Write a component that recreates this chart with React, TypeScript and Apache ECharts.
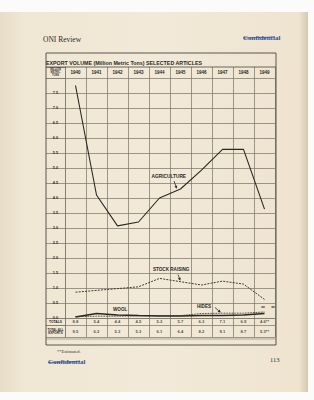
import React, { useEffect, useRef } from "react";
import * as echarts from "echarts";

const years = ["1940", "1941", "1942", "1943", "1944", "1945", "1946", "1947", "1948", "1949"];
const agriculture = [7.75, 4.1, 3.07, 3.2, 4.0, 4.3, 4.93, 5.62, 5.62, 3.63];
const stockRaising = [0.86, 0.92, 0.98, 1.04, 1.32, 1.21, 1.1, 1.23, 1.13, 0.62];
const wool = [0.03, 0.15, 0.1, 0.08, 0.07, 0.07, 0.08, 0.08, 0.1, 0.15];
const hides = [0.05, 0.06, 0.06, 0.07, 0.08, 0.08, 0.15, 0.16, 0.16, 0.2];
const totals = [8.8, 5.4, 4.4, 4.5, 5.3, 5.7, 6.3, 7.1, 6.9, 4.6];
const totalAllExports = [9.5, 6.2, 5.3, 5.3, 6.1, 6.4, 8.2, 9.1, 8.7, 5.3];
const estimated = [false, false, false, false, false, false, false, false, false, true];
const totalsRow = ["TOTALS"];
const allExportsRow = ["TOTAL ALL\nEXPORTS"];
const headerName = ["MILLION\nMETRIC\nTONS"];

const INK = "#2b2824";
const GRID = "#7f796d";
const SANS = "Liberation Sans";
const SERIF = "Liberation Serif";

function arrow(x1: number, y1: number, x2: number, y2: number) {
  const dx = x2 - x1, dy = y2 - y1;
  const len = Math.sqrt(dx * dx + dy * dy);
  const ux = dx / len, uy = dy / len;
  const px = -uy, py = ux;
  const hl = 3, hw = 1.5;
  const bx = x2 - ux * hl, by = y2 - uy * hl;
  return [
    { type: "line", shape: { x1, y1, x2: bx, y2: by }, style: { stroke: INK, lineWidth: 0.8 }, z: 20 },
    {
      type: "polygon",
      shape: { points: [[x2, y2], [bx + px * hw, by + py * hw], [bx - px * hw, by - py * hw]] },
      style: { fill: INK },
      z: 20,
    },
  ];
}

function txt(text: string, x: number, y: number, font: string, fill = INK, align = "left") {
  return {
    type: "text",
    x,
    y,
    z: 20,
    style: { text, font, fill, textAlign: align, textVerticalAlign: "middle" },
  };
}

export default function App() {
  const ref = useRef<HTMLDivElement>(null);
  useEffect(() => {
    if (!ref.current) return;
    const chart = echarts.init(ref.current, undefined, { renderer: "svg" });
    const lineStyleGrid = { color: GRID, width: 0.75 };
    const hiddenCatX = (gi: number, axisLine: boolean) => ({
      type: "category",
      gridIndex: gi,
      data: years,
      boundaryGap: true,
      axisLine: { show: axisLine, lineStyle: lineStyleGrid },
      axisTick: { show: false },
      axisLabel: { show: false },
      splitLine: { show: true, interval: 0, lineStyle: lineStyleGrid },
    });
    const rowY = (gi: number, data: string[], fontSize: number, lineHeight: number, color = INK) => ({
      type: "category",
      gridIndex: gi,
      data,
      axisLine: { show: true, lineStyle: lineStyleGrid },
      axisTick: { show: true, length: 19, lineStyle: lineStyleGrid },
      axisLabel: {
        fontSize,
        lineHeight,
        fontWeight: "bold",
        color,
        fontFamily: SANS,
        margin: 9.5,
        align: "center",
      },
      splitLine: { show: false },
    });
    const valueLabel = {
      show: true,
      position: "inside",
      fontSize: 4.2,
      fontWeight: "bold",
      color: INK,
      fontFamily: SANS,
      formatter: (p: any) => p.data[2].toFixed(1) + (estimated[p.dataIndex] ? "**" : ""),
    };
    const option: any = {
      animation: false,
      backgroundColor: "#fbfbf9",
      title: {
        text: "EXPORT VOLUME (Million Metric Tons) SELECTED ARTICLES",
        left: 46,
        top: 60,
        padding: 0,
        textStyle: { fontSize: 5.3, fontWeight: "bold", color: INK, fontFamily: SANS },
      },
      grid: [
        { left: 65, right: 39, top: 78, bottom: 82 },
        { left: 65, right: 39, top: 67, bottom: 322 },
        { left: 65, right: 39, top: 318, bottom: 75 },
        { left: 65, right: 39, top: 325, bottom: 63 },
      ],
      xAxis: [
        {
          type: "category",
          gridIndex: 0,
          data: years,
          position: "top",
          boundaryGap: true,
          axisLine: { show: true, lineStyle: lineStyleGrid },
          axisTick: { show: false },
          axisLabel: {
            fontSize: 4.5,
            fontWeight: "bold",
            color: INK,
            fontFamily: SANS,
            margin: 5.5,
            verticalAlign: "middle",
            interval: 0,
          },
          splitLine: { show: true, interval: 0, lineStyle: lineStyleGrid },
        },
        hiddenCatX(1, false),
        hiddenCatX(2, true),
        hiddenCatX(3, true),
      ],
      yAxis: [
        {
          type: "value",
          gridIndex: 0,
          min: 0,
          max: 8,
          interval: 0.5,
          axisLine: { show: true, lineStyle: lineStyleGrid },
          axisTick: { show: true, length: 19, lineStyle: lineStyleGrid },
          axisLabel: {
            fontSize: 3.8,
            fontWeight: "bold",
            color: INK,
            fontFamily: SANS,
            margin: 9.5,
            align: "center",
            formatter: (v: number) => (v >= 8 ? "" : v.toFixed(1)),
          },
          splitLine: { show: true, lineStyle: lineStyleGrid },
        },
        rowY(1, headerName, 2.6, 2.9, "#3a3630"),
        rowY(2, totalsRow, 3.3, 3.6),
        rowY(3, allExportsRow, 3.0, 3.4),
      ],
      series: [
        {
          name: "Agriculture",
          type: "line",
          data: agriculture,
          symbol: "none",
          lineStyle: { color: INK, width: 1.1 },
          z: 10,
        },
        {
          name: "Stock Raising",
          type: "line",
          data: stockRaising,
          symbol: "none",
          lineStyle: { color: INK, width: 0.9, type: [2, 1.2] },
          z: 10,
        },
        {
          name: "Wool",
          type: "line",
          data: wool,
          symbol: "none",
          lineStyle: { color: INK, width: 1.5 },
          z: 10,
        },
        {
          name: "Hides",
          type: "line",
          data: hides,
          symbol: "none",
          lineStyle: { color: INK, width: 1, type: [0.8, 0.8] },
          z: 11,
        },
        {
          name: "Totals",
          type: "scatter",
          xAxisIndex: 2,
          yAxisIndex: 2,
          symbolSize: 1,
          itemStyle: { color: "rgba(0,0,0,0)" },
          data: totals.map((v, i) => [years[i], totalsRow[0], v]),
          label: valueLabel,
        },
        {
          name: "Total All Exports",
          type: "scatter",
          xAxisIndex: 3,
          yAxisIndex: 3,
          symbolSize: 1,
          itemStyle: { color: "rgba(0,0,0,0)" },
          data: totalAllExports.map((v, i) => [years[i], allExportsRow[0], v]),
          label: valueLabel,
        },
      ],
      graphic: [
        {
          type: "rect",
          shape: { x: 0, y: 12, width: 308, height: 380 },
          z: -10,
          silent: true,
          style: {
            fill: new echarts.graphic.LinearGradient(0, 0, 1, 0, [
              { offset: 0, color: "#e7ddc8" },
              { offset: 0.07, color: "#efe6d3" },
              { offset: 0.5, color: "#f2e9d8" },
              { offset: 0.97, color: "#eee4d0" },
              { offset: 1, color: "#d6c9b0" },
            ]),
          },
        },
        {
          type: "rect",
          shape: { x: 46, y: 53, width: 230, height: 292 },
          z: 5,
          style: { fill: "none", stroke: "#4a4640", lineWidth: 0.9 },
        },
        { type: "line", shape: { x1: 46, y1: 67, x2: 276, y2: 67 }, z: 5, style: { stroke: "#4a4640", lineWidth: 0.8 } },
        { type: "line", shape: { x1: 46, y1: 339, x2: 276, y2: 339 }, z: 5, style: { stroke: GRID, lineWidth: 0.6 } },
        txt("ONI Review", 43, 39, `7.5px ${SERIF}`, "#2e2b27"),
        txt("Confidential", 243, 37.5, `bold 7px ${SERIF}`, "#34508a"),
        { type: "line", shape: { x1: 243, y1: 38, x2: 275, y2: 37 }, z: 21, style: { stroke: "#34508a", lineWidth: 0.8 } },
        txt("Confidential", 48, 362, `bold 7px ${SERIF}`, "#34508a"),
        { type: "line", shape: { x1: 48, y1: 362.5, x2: 80, y2: 361.5 }, z: 21, style: { stroke: "#34508a", lineWidth: 0.8 } },
        txt("113", 270, 359, `6.5px ${SERIF}`, "#2e2b27"),
        txt("**Estimated.", 57, 351, `4.5px ${SERIF}`, "#3a3630"),
        txt("AGRICULTURE", 151.5, 176, `bold 4.8px ${SANS}`),
        ...arrow(174, 181, 176.8, 188.8),
        txt("STOCK RAISING", 153, 269.5, `bold 4.6px ${SANS}`),
        ...arrow(178, 274.5, 180.3, 280.8),
        txt("WOOL", 113, 309.5, `bold 4.6px ${SANS}`),
        txt("HIDES", 197, 306, `bold 4.6px ${SANS}`),
        ...arrow(215, 307.5, 220.8, 312.6),
        txt("**", 263, 308.5, `bold 4.5px ${SANS}`, INK, "center"),
        txt("**", 273, 308.5, `bold 4.5px ${SANS}`, INK, "center"),
      ],
    };
    chart.setOption(option);
    return () => chart.dispose();
  }, []);
  return (
    <div
      ref={ref}
      style={{ position: "fixed", left: 0, top: 0, width: 314, height: 400 }}
    />
  );
}
